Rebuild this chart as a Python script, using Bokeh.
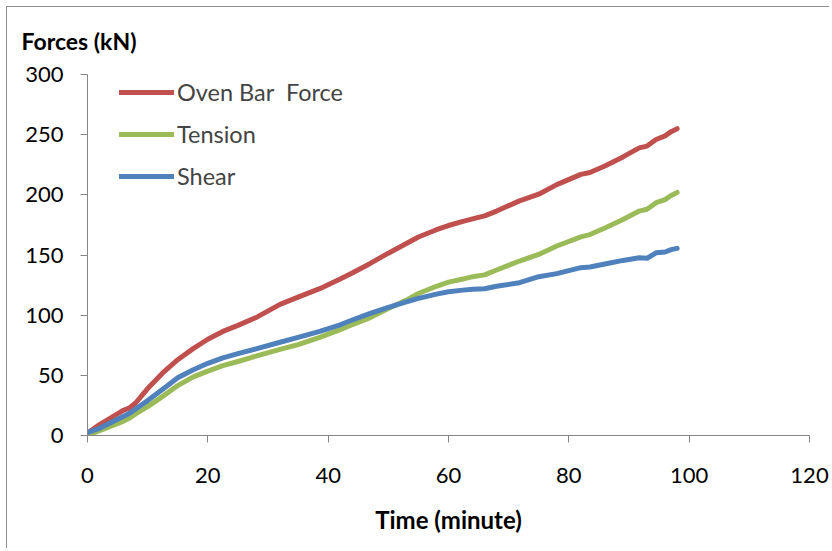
from bokeh.plotting import figure
from bokeh.models import Range1d, FixedTicker, Legend, LegendItem, Title
from bokeh.embed import file_html
from bokeh.resources import INLINE

time_min = [0, 2, 4, 6, 7, 8, 10, 12.5, 15, 17.5, 20, 22.5, 25, 28, 32, 35, 38.6, 42, 44, 47,
            50, 53, 55, 58, 60, 62.4, 64, 66, 68, 71.8, 75, 78, 82, 83.5, 86, 89, 91.7, 93,
            94.5, 96, 97, 98]
oven_bar_force = [2, 9, 15, 21, 23, 27, 39, 52, 63, 72, 80, 86.5, 91.5, 98, 109, 115, 122, 130,
                  135, 143, 151.5, 159.5, 165, 171, 174.5, 178, 180, 182.5, 186.5, 195, 200.5,
                  208.5, 217, 218.5, 224, 231.5, 239, 240.5, 246, 249, 252.5, 255]
tension = [0, 4, 8, 12, 14.5, 18, 24, 32.5, 41.5, 48.5, 53.5, 58, 61.5, 66, 71.5, 75.5, 81.5,
           88, 92, 98, 105.5, 112.5, 118, 124, 127.5, 130, 132, 133.5, 137.5, 145, 150.5,
           157.5, 165, 167, 172.5, 179.5, 186.5, 188, 193.5, 196, 199.5, 202]
shear = [2.5, 6, 11, 16, 18.5, 22, 29, 38.5, 48, 54.5, 60, 64.5, 68, 72, 77.5, 81.5, 86.5,
         92, 96, 101.5, 106.5, 111, 114, 117.5, 119.5, 120.8, 121.5, 122, 124, 127, 132,
         134.5, 139.5, 140, 142.5, 145.5, 147.7, 147.3, 151.8, 152.5, 154.5, 155.5]

series_names = ["Oven Bar  Force", "Tension", "Shear"]
series_values = [oven_bar_force, tension, shear]
series_colors = ["#C0504D", "#9BBB59", "#4F81BD"]
x_ticks = [0, 20, 40, 60, 80, 100, 120]
y_ticks = [0, 50, 100, 150, 200, 250, 300]

FONT = "Lato"
AXIS_COLOR = "#868686"

p = figure(width=823, height=542, output_backend="svg", toolbar_location=None,
           x_range=Range1d(0, 120), y_range=Range1d(0, 300),
           min_border_left=80, min_border_right=21, min_border_top=67, min_border_bottom=114)
p.styles = {"margin-left": "6px", "margin-top": "6px",
            "border-left": "1px solid #8c8c8c", "border-top": "1px solid #8c8c8c"}
p.outline_line_color = None
p.grid.visible = False
p.background_fill_color = "white"
p.border_fill_color = "white"

for ax, ticks in ((p.xaxis[0], x_ticks), (p.yaxis[0], y_ticks)):
    ax.ticker = FixedTicker(ticks=ticks)
    ax.axis_line_color = AXIS_COLOR
    ax.major_tick_line_color = AXIS_COLOR
    ax.major_tick_in = 0
    ax.major_tick_out = 7
    ax.minor_tick_line_color = None
    ax.major_label_text_font = FONT
    ax.major_label_text_font_size = "22px"
    ax.major_label_text_color = "black"
p.yaxis.major_label_standoff = 17
p.xaxis.major_label_standoff = 25

p.xaxis.axis_label = "Time (minute)"
p.xaxis.axis_label_text_font = FONT
p.xaxis.axis_label_text_font_style = "bold"
p.xaxis.axis_label_text_font_size = "24px"
p.xaxis.axis_label_text_color = "black"
p.xaxis.axis_label_standoff = 19

items = []
for name, vals, col in zip(series_names, series_values, series_colors):
    r = p.line(time_min, vals, line_color=col, line_width=5, line_cap="round", line_join="round")
    items.append(LegendItem(label=name, renderers=[r]))

legend = Legend(items=items, location=(32, 245), padding=0, margin=0, spacing=14,
                glyph_width=55, glyph_height=28, label_height=28, label_standoff=3,
                label_text_font=FONT, label_text_font_size="23.5px",
                border_line_color=None, background_fill_alpha=0)
p.add_layout(legend, "center")

title = Title(text="Forces (kN)", align="left", offset=-66, standoff=36,
              vertical_align="top",
              text_font=FONT, text_font_style="bold", text_font_size="23px",
              text_color="black")
p.add_layout(title, "above")

open("out.html", "w").write(file_html(p, INLINE))
